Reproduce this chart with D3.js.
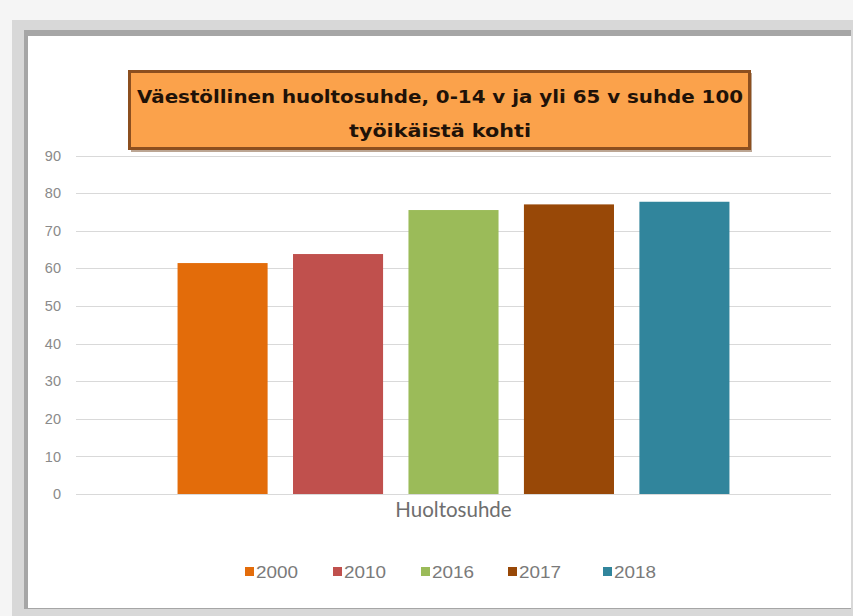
<!DOCTYPE html>
<html>
<head>
<meta charset="utf-8">
<script src="https://cdn.jsdelivr.net/npm/d3@7"></script>
<style>
  body { margin: 0; background: #f5f5f5; }
  svg { display: block; }
</style>
</head>
<body>
<svg id="chart" width="853" height="616"></svg>
<script>
const years = ['2000', '2010', '2016', '2017', '2018'];
const values = [61.4, 63.8, 75.5, 77.0, 77.7];
const colors = ['#E36C0A', '#C0504D', '#9BBB59', '#984807', '#31859C'];
const yTicks = [0, 10, 20, 30, 40, 50, 60, 70, 80, 90];
const category = 'Huoltosuhde';
const titleLines = ['Väestöllinen huoltosuhde, 0-14 v ja yli 65 v suhde 100', 'työikäistä kohti'];

const svg = d3.select('#chart');

// frame around the chart (screenshot border)
svg.append('rect').attr('x', 0).attr('y', 0).attr('width', 853).attr('height', 616).attr('fill', '#f5f5f5');
svg.append('rect').attr('x', 12).attr('y', 20).attr('width', 841).attr('height', 596).attr('fill', '#d8d8d8');
svg.append('rect').attr('x', 24).attr('y', 30).attr('width', 827).attr('height', 579).attr('fill', '#a6a6a6');
svg.append('rect').attr('x', 28).attr('y', 36).attr('width', 823).attr('height', 572).attr('fill', '#ffffff');

const margin = { left: 76, right: 22, top: 155.5 };
const plotW = 853 - margin.left - margin.right;
const plotBottom = 494;

const y = d3.scaleLinear().domain([0, 90]).range([plotBottom, margin.top]);

const x0 = d3.scaleBand().domain([category]).range([margin.left, margin.left + plotW]).paddingInner(0).paddingOuter(0.184);
const x1 = d3.scaleBand().domain(years).range([0, x0.bandwidth()]).paddingInner(0.22).paddingOuter(0);

// gridlines
svg.append('g')
  .selectAll('line')
  .data(yTicks)
  .join('line')
  .attr('x1', margin.left)
  .attr('x2', margin.left + plotW)
  .attr('y1', d => Math.round(y(d)) + 0.5)
  .attr('y2', d => Math.round(y(d)) + 0.5)
  .attr('stroke', '#d9d9d9')
  .attr('stroke-width', 1);

// y axis labels
const yAxis = d3.axisLeft(y).tickValues(yTicks).tickSize(0).tickPadding(15);
const gy = svg.append('g').attr('transform', `translate(${margin.left},0)`).call(yAxis);
gy.select('.domain').remove();
gy.selectAll('text')
  .attr('fill', '#8a8a8a')
  .attr('font-family', 'Liberation Sans, Arial, sans-serif')
  .attr('font-size', 14.5);

// bars
svg.append('g')
  .selectAll('rect')
  .data(years)
  .join('rect')
  .attr('x', (d) => x0(category) + x1(d))
  .attr('y', (d, i) => y(values[i]))
  .attr('width', x1.bandwidth())
  .attr('height', (d, i) => plotBottom - y(values[i]))
  .attr('fill', (d, i) => colors[i]);

// category label
svg.append('text')
  .attr('x', x0(category) + x0.bandwidth() / 2)
  .attr('y', 517)
  .attr('text-anchor', 'middle')
  .attr('fill', '#6e6e6e')
  .attr('font-family', 'Lato, sans-serif')
  .attr('font-size', 20.5)
  .text(category);

// title box
const title = svg.append('g');
title.append('rect')
  .attr('x', 131).attr('y', 73).attr('width', 621).attr('height', 79)
  .attr('fill', '#6b3a12').attr('opacity', 0.45);
title.append('rect')
  .attr('x', 129.5).attr('y', 71.5).attr('width', 620).attr('height', 77)
  .attr('fill', '#FBA24B').attr('stroke', '#8c4f1f').attr('stroke-width', 3);
const titleWidths = [606, 182];
title.selectAll('text')
  .data(titleLines)
  .join('text')
  .attr('x', 440)
  .attr('y', (d, i) => 103 + i * 34)
  .attr('text-anchor', 'middle')
  .attr('fill', '#1f1208')
  .attr('font-family', 'DejaVu Sans, sans-serif')
  .attr('font-weight', 'bold')
  .attr('font-size', 18)
  .attr('textLength', (d, i) => titleWidths[i])
  .attr('lengthAdjust', 'spacingAndGlyphs')
  .text(d => d);

// legend
const legendX = [245, 333, 421, 508, 603];
const legend = svg.append('g')
  .selectAll('g')
  .data(years)
  .join('g')
  .attr('transform', (d, i) => `translate(${legendX[i]},572)`);
legend.append('rect')
  .attr('x', 0).attr('y', -5).attr('width', 9).attr('height', 9)
  .attr('fill', (d, i) => colors[i]);
legend.append('text')
  .attr('x', 11).attr('y', 6)
  .attr('fill', '#7a7a7a')
  .attr('font-family', 'Liberation Sans, Arial, sans-serif')
  .attr('font-size', 17)
  .attr('textLength', 42)
  .attr('lengthAdjust', 'spacingAndGlyphs')
  .text(d => d);
</script>
</body>
</html>
